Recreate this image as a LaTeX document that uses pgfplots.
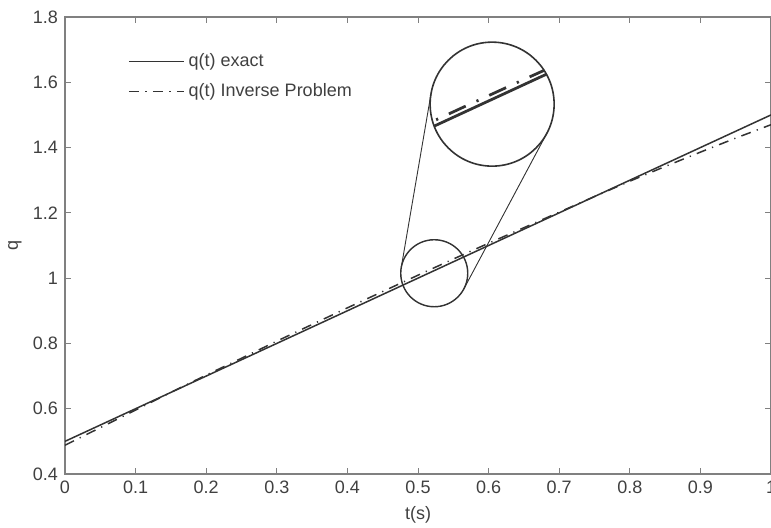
\documentclass[border=0pt]{standalone}
\usepackage{pgfplots}
\pgfplotsset{compat=1.18}
\usepackage{fontspec}
\setmainfont{Liberation Sans}
\usetikzlibrary{spy}
\definecolor{txt}{HTML}{404040}
\definecolor{axc}{HTML}{808080}
\definecolor{ln}{HTML}{333333}
\begin{document}
\begin{tikzpicture}
\begin{scope}[spy using outlines={circle, magnification=1.85, size=62pt, draw=ln, line width=0.7pt}]
\begin{axis}[
 name=ax,
 scale only axis, width=353pt, height=228.5pt,
 xmin=0, xmax=1, ymin=0.4, ymax=1.8,
 xtick={0,0.1,0.2,0.3,0.4,0.5,0.6,0.7,0.8,0.9,1},
 xticklabels={0,0.1,0.2,0.3,0.4,0.5,0.6,0.7,0.8,0.9,1},
 ytick={0.4,0.6,0.8,1,1.2,1.4,1.6,1.8},
 yticklabels={0.4,0.6,0.8,1,1.2,1.4,1.6,1.8},
 tick align=inside, major tick length=3pt,
 tick style={axc, line width=0.4pt},
 axis line style={axc, line width=0.6pt},
 tick label style={txt, font=\fontsize{9}{10}\selectfont},
 label style={txt, font=\fontsize{9}{10}\selectfont},
 xlabel={t(s)}, ylabel={q},
 xlabel style={at={(axis description cs:0.5,-0.0897)}, anchor=center},
 ylabel style={at={(axis description cs:-0.0708,0.5)}, anchor=center, rotate=0},
 legend style={at={(0.089,0.93)}, anchor=north west, draw=none, fill=none,
   font=\fontsize{9}{10}\selectfont, text=txt, inner sep=0pt, row sep=3pt},
 legend cell align=left,
 legend image code/.code={\draw[#1] (0pt,0pt) -- (27.5pt,0pt);},
]
\addplot[ln, line width=0.75pt] coordinates {(0,0.5) (1,1.5)};
\addplot[ln, line width=0.75pt, dash pattern=on 5pt off 3.2pt on 0.6pt off 3.2pt] coordinates {
(0,0.488) (0.05,0.542) (0.1,0.596) (0.15,0.650) (0.2,0.703) (0.25,0.7545)
(0.3,0.807) (0.35,0.858) (0.4,0.909) (0.45,0.959) (0.5,1.009) (0.55,1.0585)
(0.6,1.107) (0.65,1.1545) (0.7,1.202) (0.75,1.250) (0.8,1.297) (0.85,1.342)
(0.9,1.386) (0.95,1.429) (1,1.470)};
\legend{q(t) exact, q(t) Inverse Problem}
\coordinate (spyon) at (axis cs:0.523,1.015);
\coordinate (spyin) at (axis cs:0.605,1.533);
\end{axis}
\spy on (spyon) in node at (spyin);
\end{scope}
\draw[ln, line width=0.7pt] (spyon) circle (16.75pt);
\draw[ln, line width=0.45pt] ([shift={(spyon)}]170.36:16.75pt) -- ([shift={(spyin)}]170.36:31pt);
\draw[ln, line width=0.45pt] ([shift={(spyon)}]-28.08:16.75pt) -- ([shift={(spyin)}]-28.08:31pt);
\pgfresetboundingbox
\useasboundingbox ([shift={(-32.5pt,-27pt)}]ax.south west) rectangle ([shift={(0pt,8.5pt)}]ax.north east);
\end{tikzpicture}
\end{document}
